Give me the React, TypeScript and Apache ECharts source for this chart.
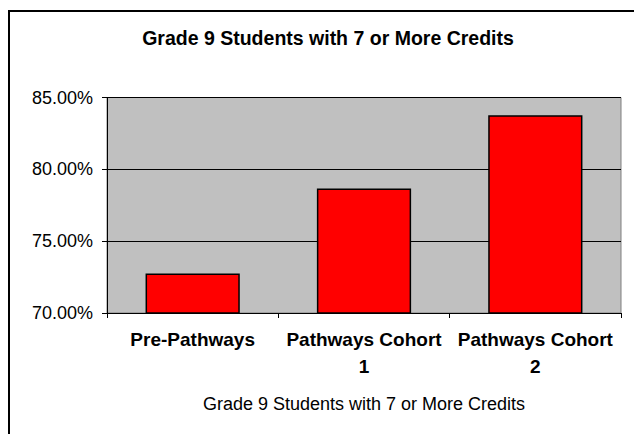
import React, { useEffect, useRef } from "react";
import * as echarts from "echarts";

const chartTitle = "Grade 9 Students with 7 or More Credits";
const axisTitle = "Grade 9 Students with 7 or More Credits";
const categories = ["Pre-Pathways", "Pathways Cohort\n1", "Pathways Cohort\n2"];
const values = [72.75, 78.66, 83.76];
const yMin = 70;
const yMax = 85;
const yStep = 5;

const FONT = 'Arial, "Liberation Sans", sans-serif';

export default function App() {
  const ref = useRef<HTMLDivElement>(null);
  useEffect(() => {
    if (!ref.current) return;
    const chart = echarts.init(ref.current, undefined, { renderer: "svg" });
    chart.setOption({
      animation: false,
      backgroundColor: "#ffffff",
      title: {
        text: chartTitle,
        left: 323,
        top: 23,
        textAlign: "center",
        textStyle: { fontFamily: FONT, fontSize: 19.5, fontWeight: "bold", color: "#000" },
      },
      graphic: [
        {
          type: "rect",
          shape: { x: 9, y: 11, width: 700, height: 500 },
          style: { fill: "none", stroke: "#000", lineWidth: 2 },
          silent: true,
          z: -1,
        },
      ],
      grid: {
        left: 107,
        right: 13,
        top: 97.5,
        bottom: 121,
        show: true,
        backgroundColor: "#C0C0C0",
        borderColor: "#808080",
        borderWidth: 1,
        containLabel: false,
      },
      xAxis: {
        type: "category",
        data: categories,
        name: axisTitle,
        nameLocation: "middle",
        nameGap: 82,
        nameTextStyle: { fontFamily: FONT, fontSize: 18, color: "#000" },
        axisLine: { show: true, lineStyle: { color: "#000", width: 1 } },
        axisTick: { show: true, length: 5, lineStyle: { color: "#000" } },
        axisLabel: {
          interval: 0,
          margin: 13,
          fontFamily: FONT,
          fontSize: 19,
          fontWeight: "bold",
          color: "#000",
          lineHeight: 27,
        },
      },
      yAxis: {
        type: "value",
        min: yMin,
        max: yMax,
        interval: yStep,
        axisLine: { show: true, lineStyle: { color: "#000", width: 1 } },
        axisTick: { show: true, length: 5, lineStyle: { color: "#000" } },
        axisLabel: {
          margin: 14,
          fontFamily: FONT,
          fontSize: 18,
          color: "#000",
          formatter: (v: number) => v.toFixed(2) + "%",
        },
        splitLine: { show: true, lineStyle: { color: "#000", width: 1 } },
      },
      series: [
        {
          type: "bar",
          data: values,
          barCategoryGap: "45%",
          itemStyle: { color: "#FF0000", borderColor: "#000", borderWidth: 1.5 },
        },
      ],
    });
    return () => chart.dispose();
  }, []);
  return (
    <div
      ref={ref}
      style={{ position: "fixed", left: 0, top: 0, width: 634, height: 434 }}
    />
  );
}
